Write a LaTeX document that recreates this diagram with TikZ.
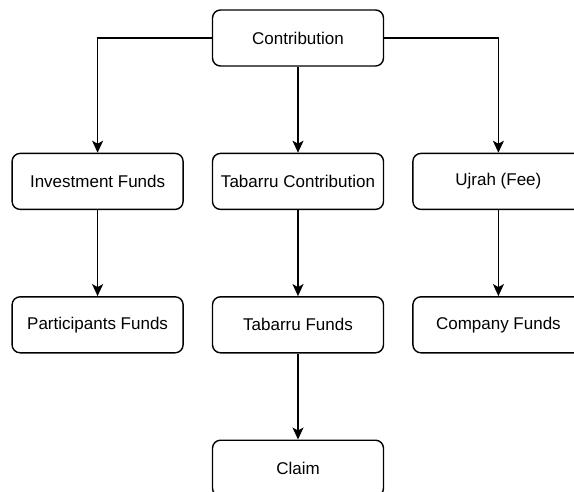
\documentclass[tikz,border=0pt]{standalone}
\usepackage{fontspec}
\setmainfont{Liberation Sans}
\usetikzlibrary{positioning,arrows.meta}

\begin{document}
\begin{tikzpicture}[node distance={86pt and 28pt}, main/.style = {draw, line width=1.4pt, rounded corners=8pt, minimum width=171pt, minimum height=56pt, inner sep=2pt, font=\fontsize{17}{20}\selectfont}, flow/.style = {-{Stealth[length=12pt, width=11pt, inset=3pt]}, line width=1.4pt}]
	\useasboundingbox (0,0) rectangle (574pt,-491pt);
	\clip (0,0) rectangle (574pt,-491pt);
	\node[main] (contrib) at (298pt,-38pt) {Contribution};
	\node[main, below = of contrib] (tabc) {Tabarru Contribution};
	\node[main, left = of tabc] (invest) {Investment Funds};
	\node[main, right = of tabc] (ujrah) {Ujrah (Fee)};
	\node[main, below = of invest] (part) {Participants Funds};
	\node[main, below = of tabc] (tabf) {Tabarru Funds};
	\node[main, below = of ujrah] (company) {Company Funds};
	\node[main, below = of tabf] (claim) {Claim};
	\draw[flow] (contrib.west) -| (invest);
	\draw[flow] (contrib) -- (tabc);
	\draw[flow] (contrib.east) -| (ujrah);
	\draw[flow] (invest) -- (part);
	\draw[flow] (tabc) -- (tabf);
	\draw[flow] (ujrah) -- (company);
	\draw[flow] (tabf) -- (claim);
\end{tikzpicture}
\end{document}
